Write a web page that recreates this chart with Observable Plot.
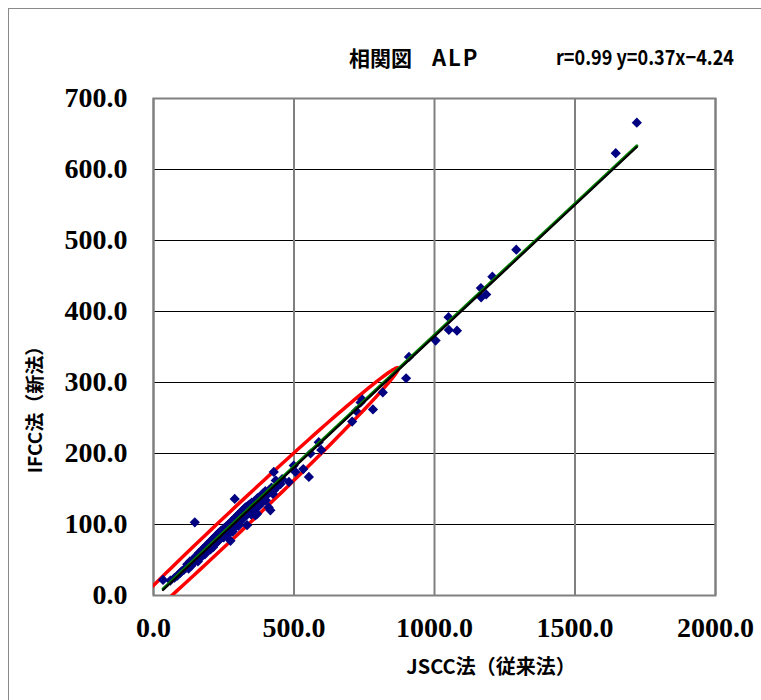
<!DOCTYPE html>
<html>
<head>
<meta charset="utf-8">
<script src="https://cdn.jsdelivr.net/npm/d3@7"></script>
<script src="https://cdn.jsdelivr.net/npm/@observablehq/plot@0.6"></script>
<style>
  html, body { margin: 0; padding: 0; background: #fff; }
  #wrap { position: relative; width: 761px; height: 700px; overflow: hidden; background: #fff; }
  #outer { position: absolute; left: 8px; top: 8px; width: 900px; height: 900px; border: 1.5px solid #8a8a8a; box-sizing: border-box; }
  #chart { position: absolute; left: 0; top: 0; }
  .t { position: absolute; font-family: "Noto Sans CJK JP", "Liberation Sans", sans-serif; font-weight: bold; color: #000; white-space: nowrap; line-height: 1; }
</style>
</head>
<body>
<div id="wrap">
  <div id="outer"></div>
  <div id="chart"></div>
  <div class="t" id="title" style="left:349px; top:45px; font-size:21px;">相関図<span style="display:inline-block;width:20px"></span><span style="font-size:22px; letter-spacing:2px;">ALP</span></div>
  <div class="t" id="eq" style="left:556px; top:46px; font-size:21px; transform: scaleX(0.86); transform-origin: left top;">r=0.99 y=0.37x−4.24</div>
  <div class="t" id="xt" style="left:491px; top:666px; font-size:20px; transform: translate(-50%,-50%);">JSCC法（従来法）</div>
  <div class="t" id="yt" style="left:33px; top:405px; font-size:19px; transform: translate(-50%,-50%) rotate(-90deg);">IFCC法（新法）</div>
</div>
<script>
// ---- data ----
const jscc = [34, 60, 75, 85, 95, 100, 108, 115, 120, 125, 130, 135, 140, 145, 147, 150, 155, 158, 162, 165,
  170, 172, 175, 180, 183, 185, 188, 190, 195, 198, 200, 203, 205, 208, 210, 212, 215, 218, 220, 222,
  225, 228, 230, 232, 235, 238, 240, 242, 245, 248, 250, 252, 255, 258, 260, 262, 265, 268, 270, 272,
  274, 275, 278, 280, 282, 285, 288, 289, 290, 292, 295, 298, 300, 302, 305, 308, 310, 312, 315, 318,
  320, 322, 325, 328, 330, 332, 333, 335, 338, 340, 345, 348, 350, 355, 360, 363, 365, 369, 370, 375,
  381, 385, 390, 398, 400, 405, 410, 416, 420, 425, 428, 428, 435, 440, 452, 458, 482, 499, 505, 533,
  553, 559, 588, 597, 707, 721, 737, 743, 781, 816, 899, 909, 1004, 1050, 1051, 1080, 1165, 1166, 1184, 1206,
  1291, 1645, 1720];
const ifcc = [22, 21, 25, 28, 32, 34, 36, 39, 44, 38, 48, 42, 50, 48, 103, 55, 53, 48, 60, 54,
  63, 55, 65, 66, 58, 69, 61, 71, 64, 73, 75, 65, 77, 69, 79, 68, 81, 72, 83, 74,
  85, 76, 87, 78, 89, 80, 91, 82, 84, 93, 82, 95, 86, 97, 88, 84, 99, 90, 101, 92,
  77, 103, 94, 105, 90, 107, 96, 136, 109, 98, 111, 102, 113, 98, 115, 104, 117, 106, 119, 108,
  121, 110, 123, 112, 125, 114, 99, 116, 127, 118, 129, 114, 131, 122, 133, 113, 124, 115, 137, 126,
  140, 130, 144, 147, 134, 142, 124, 120, 152, 143, 148, 174, 162, 153, 157, 164, 160, 183, 174, 178,
  167, 200, 216, 205, 245, 260, 272, 276, 262, 286, 306, 336, 359, 392, 374, 373, 433, 420, 424, 449,
  487, 623, 666];

const xTicks = [0, 500, 1000, 1500, 2000];
const yTicks = [0, 100, 200, 300, 400, 500, 600, 700];

// regression line from the title: y = 0.37x - 4.24
const fitSlope = 0.37;
const fitIntercept = -4.24;

// red probability ellipse (centre, upper tip, vertical half-height)
const ellipseCenter = [270, 96];
const ellipseTip = [872, 320];
const ellipseHalfHeight = 21;

// ---- build tables ----
const points = jscc.map((x, i) => ({x, y: ifcc[i]}));
const [xmin, xmax] = d3.extent(jscc);
const fitLine = [xmin, xmax].map(x => ({x, y: fitSlope * x + fitIntercept}));
const ax = ellipseTip[0] - ellipseCenter[0], ay = ellipseTip[1] - ellipseCenter[1];
const ellipse = d3.range(0, 361, 2).map(d => {
  const t = d * Math.PI / 180;
  return {x: ellipseCenter[0] + ax * Math.cos(t), y: ellipseCenter[1] + ay * Math.cos(t) + ellipseHalfHeight * Math.sin(t)};
});

const fmt = d3.format(".1f");
const chart = Plot.plot({
  width: 761,
  height: 700,
  marginLeft: 153,
  marginRight: 46,
  marginTop: 98,
  marginBottom: 105,
  style: {background: "transparent", fontFamily: "'Liberation Serif', 'Times New Roman', serif"},
  x: {domain: [0, 2000], ticks: xTicks},
  y: {domain: [0, 700], ticks: yTicks},
  marks: [
    Plot.gridY(yTicks, {stroke: "#000", strokeOpacity: 1, strokeWidth: 1}),
    Plot.gridX(xTicks, {stroke: "#808080", strokeOpacity: 1, strokeWidth: 2}),
    Plot.frame({stroke: "#808080", strokeWidth: 2}),
    Plot.line(ellipse, {x: "x", y: "y", stroke: "#ff0000", strokeWidth: 3.5, clip: true, curve: "linear"}),
    Plot.dot(points, {x: "x", y: "y", symbol: "diamond2", fill: "#000080", stroke: null, r: 4.6}),
    Plot.line(fitLine, {x: "x", y: "y", stroke: "#008000", strokeWidth: 3, dy: -0.8}),
    Plot.line(fitLine, {x: "x", y: "y", stroke: "#000", strokeWidth: 2.2, dy: 0.4}),
    Plot.axisY(yTicks, {tickFormat: fmt, tickSize: 0, tickPadding: 26, fontSize: 28, fontWeight: "bold", label: null}),
    Plot.axisX(xTicks, {tickFormat: fmt, tickSize: 0, tickPadding: 22, fontSize: 28, fontWeight: "bold", label: null})
  ]
});
document.getElementById("chart").appendChild(chart);
</script>
</body>
</html>
